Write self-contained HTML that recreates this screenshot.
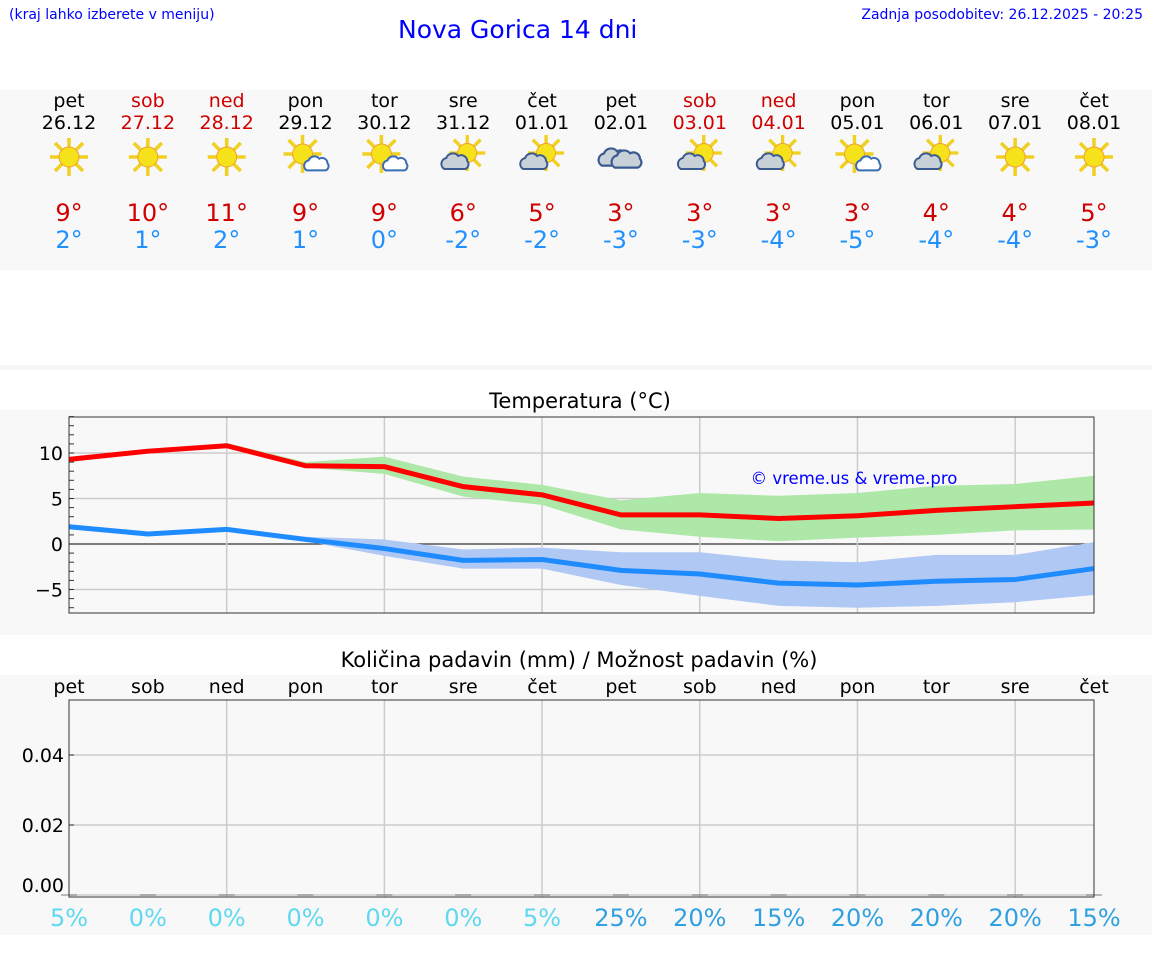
<!DOCTYPE html>
<html><head><meta charset="utf-8"><style>
body{margin:0;width:1152px;height:975px;background:#fff;font-family:"DejaVu Sans","Liberation Sans",sans-serif;position:relative;overflow:hidden}
.a{position:absolute}
svg text{font-family:"DejaVu Sans","Liberation Sans",sans-serif}
</style></head><body>
<div class="a" style="left:9px;top:7px;font-size:14px;color:#00f">(kraj lahko izberete v meniju)</div>
<div class="a" style="left:398px;top:15px;font-size:25px;color:#00f">Nova Gorica 14 dni</div>
<div class="a" style="right:9px;top:7px;font-size:14px;color:#00f">Zadnja posodobitev: 26.12.2025 - 20:25</div>
<div class="a" style="left:0;top:90px;width:1152px;height:180px;background:#f8f8f8"></div>
<div class="a" style="left:0;top:365px;width:1152px;height:5px;background:#f6f6f6"></div>
<div class="a" style="left:0;top:410px;width:1152px;height:225px;background:#f8f8f8"></div>
<div class="a" style="left:0;top:675px;width:1152px;height:260px;background:#f8f8f8"></div>
<svg class="a" style="left:0;top:0" width="1152" height="975" id="svg">
<defs>
<g id="sun"><g stroke="#f0d020" stroke-width="3.5" stroke-linecap="butt">
<line x1="0" y1="-10" x2="0" y2="-19"/><line x1="0" y1="10" x2="0" y2="19"/><line x1="-10" y1="0" x2="-19" y2="0"/><line x1="10" y1="0" x2="19" y2="0"/>
<line x1="7" y1="7" x2="14" y2="14"/><line x1="-7" y1="-7" x2="-14" y2="-14"/><line x1="7" y1="-7" x2="14" y2="-14"/><line x1="-7" y1="7" x2="-14" y2="14"/></g>
<circle r="10" fill="#f5e21a" stroke="#f0a030" stroke-width="1"/></g>
<g id="cloud"><path d="M-12,6 a6,6 0 0 1 2,-11 a7,7 0 0 1 12,-2 a6,6 0 0 1 9,5 a5,5 0 0 1 -2,8 z" fill="#fff" stroke="#3a6db5" stroke-width="2.2"/></g>
<g id="gcloud"><path d="M-12,6 a6,6 0 0 1 2,-11 a7,7 0 0 1 12,-2 a6,6 0 0 1 9,5 a5,5 0 0 1 -2,8 z" fill="#c8d0d8" stroke="#3a5a90" stroke-width="2"/></g>
</defs>
</svg>
<script>
const days=["pet","sob","ned","pon","tor","sre","čet","pet","sob","ned","pon","tor","sre","čet"];
const dates=["26.12","27.12","28.12","29.12","30.12","31.12","01.01","02.01","03.01","04.01","05.01","06.01","07.01","08.01"];
const weekend=[0,1,1,0,0,0,0,0,1,1,0,0,0,0];
const icons=["sun","sun","sun","pc","pc","cs","cs","cl","cs","cs","pc","cs","sun","sun"];
const hiLabels=[9,10,11,9,9,6,5,3,3,3,3,4,4,5];
const loLabels=[2,1,2,1,0,-2,-2,-3,-3,-4,-5,-4,-4,-3];
const tMax=[9.3,10.2,10.8,8.6,8.5,6.3,5.4,3.2,3.2,2.8,3.1,3.7,4.1,4.5];
const tMaxHi=[9.3,10.2,11.1,9.0,9.6,7.4,6.5,4.8,5.6,5.3,5.6,6.4,6.6,7.5];
const tMaxLo=[9.3,10.2,10.6,8.4,7.7,5.2,4.3,1.6,0.8,0.3,0.7,1.0,1.5,1.6];
const tMin=[1.9,1.1,1.6,0.5,-0.5,-1.8,-1.7,-2.9,-3.3,-4.3,-4.5,-4.1,-3.9,-2.7];
const tMinHi=[1.9,1.1,1.8,0.8,0.5,-0.6,-0.4,-0.9,-0.9,-1.8,-2.0,-1.2,-1.2,0.2];
const tMinLo=[1.9,1.1,1.4,0.3,-1.3,-2.7,-2.7,-4.5,-5.7,-6.8,-7.0,-6.8,-6.4,-5.6];
const tTicks=[10,5,0,-5];
const precip=[0,0,0,0,0,0,0,0,0,0,0,0,0,0];
const pProb=[5,0,0,0,0,0,5,25,20,15,20,20,20,15];
const pTicks=[0.00,0.02,0.04];
const NS="http://www.w3.org/2000/svg";
const svg=document.getElementById('svg');
const X=i=>69+i*(1094-69)/13;
const TY=v=>544-v*9.1;
const PY=v=>895-v*3500;
function el(t,a,txt){const e=document.createElementNS(NS,t);for(const k in a)e.setAttribute(k,a[k]);if(txt!==undefined)e.textContent=txt;svg.appendChild(e);return e;}
days.forEach((d,i)=>{
 const c=weekend[i]?"#d00000":"#000";
 let e=el('text',{x:X(i),y:107,'text-anchor':'middle','font-size':19,fill:c},d);
 
 e=el('text',{x:X(i),y:129,'text-anchor':'middle','font-size':19,fill:c},dates[i]);
 
 const g=document.createElementNS(NS,'g');g.setAttribute('transform',`translate(${X(i)},157)`);
 
 const ic=icons[i];
 const u=(id,tx,ty,s)=>{const q=document.createElementNS(NS,'use');q.setAttribute('href','#'+id);q.setAttribute('transform',`translate(${tx},${ty}) scale(${s})`);g.appendChild(q);};
 if(ic==="sun")u('sun',0,0,1);
 else if(ic==="pc"){u('sun',-3,-3,1);u('cloud',12,8,0.9);}
 else if(ic==="cs"){u('sun',4,-4,0.95);u('gcloud',-7,6,1);}
 else {u('gcloud',-6,2,1.1);u('gcloud',7,4,1.1);}
 svg.appendChild(g);
 e=el('text',{x:X(i),y:221,'text-anchor':'middle','font-size':24,fill:'#d00000'},hiLabels[i]+"°");
 
 e=el('text',{x:X(i),y:248,'text-anchor':'middle','font-size':24,fill:'#2090ff'},(loLabels[i]<0?"-":"")+Math.abs(loLabels[i])+"°");
 
});
let e=el('text',{x:580,y:408,'text-anchor':'middle','font-size':21},"Temperatura (°C)");

el('rect',{x:69,y:417,width:1025,height:196,fill:'#f8f8f8',stroke:'none'});
tTicks.forEach(t=>{
 const l=el('line',{x1:69,x2:1094,y1:TY(t),y2:TY(t),stroke:t===0?'#333':'#ccc','stroke-width':t===0?1.2:1.5});
 
 const tx=el('text',{x:63,y:TY(t)+7,'text-anchor':'end','font-size':19},t<0?"−"+(-t):t);
 
});
for(let v=-7;v<=14;v++)el('line',{x1:69,x2:74,y1:TY(v),y2:TY(v),stroke:'#333','stroke-width':1});
for(let i=2;i<13;i+=2){const l=el('line',{x1:X(i),x2:X(i),y1:417,y2:613,stroke:'#ccc','stroke-width':1.5});}
function band(hi,lo,fill,name){let d="M"+hi.map((v,i)=>X(i)+","+TY(v)).join("L")+"L"+lo.map((v,i)=>[X(i),TY(v)]).reverse().map(p=>p.join(",")).join("L")+"Z";
 const p=el('path',{d,fill,stroke:'none'});}
function line(v,c,name){const p=el('polyline',{points:v.map((t,i)=>X(i)+","+TY(t)).join(" "),fill:'none',stroke:c,'stroke-width':5});}
band(tMaxHi,tMaxLo,'#aee8a8','max-temp-range');
band(tMinHi,tMinLo,'#b0c8f4','min-temp-range');
line(tMax,'#ff0000','max-temp-line');
line(tMin,'#1e8cff','min-temp-line');
el('rect',{x:69,y:417,width:1025,height:196,fill:'none',stroke:'#333','stroke-width':1});
e=el('text',{x:854,y:484,'text-anchor':'middle','font-size':16.5,fill:'#0000ff'},"© vreme.us & vreme.pro");

e=el('text',{x:579,y:667,'text-anchor':'middle','font-size':21},"Količina padavin (mm) / Možnost padavin (%)");

days.forEach((d,i)=>{const t=el('text',{x:X(i),y:693,'text-anchor':'middle','font-size':19},d);});
pTicks.forEach(t=>{
 const l=el('line',{x1:69,x2:1094,y1:PY(t),y2:PY(t),stroke:'#ccc','stroke-width':1.5});
 el('line',{x1:69,x2:74,y1:PY(t),y2:PY(t),stroke:'#333'});
 const tx=el('text',{x:64,y:PY(t)+(t===0?-3:7),'text-anchor':'end','font-size':19},t.toFixed(2));
});
for(let i=2;i<13;i+=2)el('line',{x1:X(i),x2:X(i),y1:700,y2:897,stroke:'#ccc','stroke-width':1.5});
precip.forEach((v,i)=>{const r=el('rect',{x:X(i)-8,y:PY(v)-0.5,width:16,height:Math.max(1,PY(0)-PY(v)),fill:'#777'});});
el('rect',{x:69,y:700,width:1025,height:197,fill:'none',stroke:'#333','stroke-width':1});
pProb.forEach((p,i)=>{const t=el('text',{x:X(i),y:926,'text-anchor':'middle','font-size':24,fill:p>=10?'#30a0e0':'#60d8f0'},p+"%");});
</script>
</body></html>
